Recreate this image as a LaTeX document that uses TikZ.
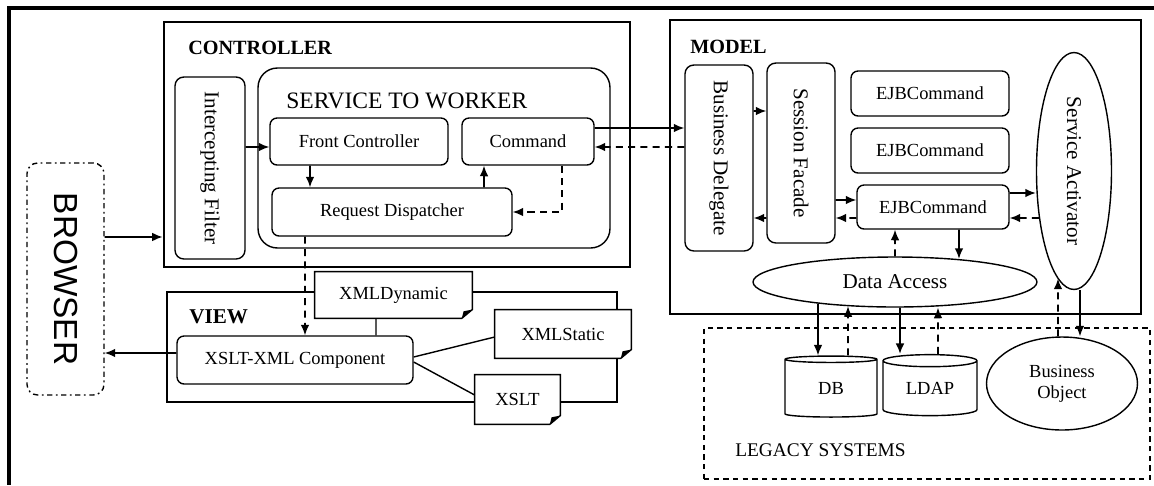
\documentclass[tikz,border=0pt]{standalone}
\usepackage{fontspec}
\setmainfont{Liberation Serif}
\newfontfamily\browserfont{Liberation Sans}
\usetikzlibrary{shapes.geometric,arrows.meta}

% outline of a document box with a folded corner
\newcommand\docframe[1]{%
  \draw[thick] (#1.south west) -- (#1.north west) -- (#1.north east) -- ([yshift=5pt]#1.south east) -- ([xshift=-6pt]#1.south east) -- cycle;
  \fill ([yshift=5pt]#1.south east) -- ([xshift=-6pt]#1.south east) -- ([xshift=-5pt,yshift=4pt]#1.south east) -- cycle;}

\begin{document}
\begin{tikzpicture}[x=0.02cm,y=-0.02cm,>={Latex[length=6pt,width=5pt]},
  big/.style={draw,line width=1.6pt,inner sep=0pt},
  box/.style={draw,thick,rounded corners=4pt,inner sep=0pt,font=\fontsize{10.5}{12}\selectfont},
  vbox/.style={draw,thick,rounded corners=5pt,inner sep=0pt,font=\fontsize{12}{14}\selectfont},
  doc/.style={fill=white,inner sep=0pt,font=\fontsize{10.5}{12}\selectfont},
  title/.style={anchor=west,inner sep=0pt,font=\bfseries\fontsize{11.5}{13}\selectfont},
  flow/.style={->,line width=1pt},
  back/.style={->,line width=1pt,dash pattern=on 4pt off 3pt},
  link/.style={thick}]
\useasboundingbox (0,0) rectangle (1154,485);
\draw[line width=2pt] (1154,8) -- (9,8) -- (9,485);

\node[draw,thick,rounded corners=6pt,dash pattern=on 3pt off 2pt on 1pt off 2pt,minimum width=1.54cm,minimum height=4.64cm,inner sep=0pt] (browser) at (65.5,279) {\rotatebox{-90}{\browserfont\fontsize{19}{22}\selectfont BROWSER}};

% controller
\node[big,minimum width=9.32cm,minimum height=4.9cm] (ctrl) at (397,144.5) {};
\node[title] (ctrltitle) at (188,48) {CONTROLLER};
\node[vbox,minimum width=1.4cm,minimum height=3.64cm] (ifilter) at (210,168) {\rotatebox{-90}{Intercepting Filter}};
\node[draw,thick,rounded corners=11pt,minimum width=7.04cm,minimum height=3.6cm] (stw) at (434,158) {};
\node[anchor=west,inner sep=0pt,font=\fontsize{13.4}{15}\selectfont] (stwtitle) at (286,101) {SERVICE TO WORKER};
\node[box,minimum width=3.56cm,minimum height=0.94cm] (frontctrl) at (359,141.5) {Front Controller};
\node[box,minimum width=2.64cm,minimum height=0.94cm] (command) at (528,141.5) {Command};
\node[box,minimum width=4.8cm,minimum height=0.96cm] (reqdisp) at (392,212) {Request Dispatcher};

% view
\node[big,minimum width=9cm,minimum height=2.2cm] (view) at (392,347) {};
\node[title,font=\bfseries\fontsize{12}{14}\selectfont] (viewtitle) at (189,317) {VIEW};
\node[box,minimum width=4.72cm,minimum height=0.96cm] (xsltxml) at (295,360) {XSLT-XML Component};
\node[doc,minimum width=3.14cm,minimum height=0.92cm] (xmldyn) at (393.5,295) {XMLDynamic};
\node[doc,minimum width=2.72cm,minimum height=0.96cm] (xmlstat) at (563,334) {XMLStatic};
\node[doc,minimum width=1.7cm,minimum height=0.98cm] (xslt) at (517.5,399.5) {XSLT};
\docframe{xmldyn}
\docframe{xmlstat}
\docframe{xslt}

% model
\node[big,minimum width=9.42cm,minimum height=5.88cm] (model) at (905.5,167) {};
\node[title] (modeltitle) at (690,47) {MODEL};
\node[vbox,minimum width=1.36cm,minimum height=3.72cm] (busdel) at (719,158) {\rotatebox{-90}{Business Delegate}};
\node[vbox,minimum width=1.36cm,minimum height=3.6cm] (sesfac) at (801,153) {\rotatebox{-90}{Session Facade}};
\node[box,minimum width=3.16cm,minimum height=0.9cm] (ejb1) at (930,93.5) {EJBCommand};
\node[box,minimum width=3.16cm,minimum height=0.9cm] (ejb2) at (930,150.5) {EJBCommand};
\node[box,minimum width=3.04cm,minimum height=0.88cm] (ejb3) at (933,207) {EJBCommand};
\node[draw,thick,ellipse,inner sep=0pt,minimum width=1.5cm,minimum height=4.74cm,font=\fontsize{12}{14}\selectfont] (servact) at (1074,171) {\rotatebox{-90}{Service Activator}};
\node[draw,thick,ellipse,inner sep=0pt,minimum width=5.68cm,minimum height=1cm,font=\fontsize{12}{14}\selectfont] (dataacc) at (895,282) {Data Access};

% legacy systems
\node[draw,thick,dash pattern=on 3pt off 2.5pt,minimum width=8.92cm,minimum height=3.02cm,inner sep=0pt] (legacy) at (927,403.5) {};
\node[anchor=west,inner sep=0pt,font=\fontsize{11}{13}\selectfont] (legacytitle) at (735,450) {LEGACY SYSTEMS};
\node[draw,thick,cylinder,shape border rotate=90,aspect=0.25,inner sep=0pt,minimum width=1.84cm,minimum height=1.22cm,font=\fontsize{10.5}{12}\selectfont] (db) at (831,388.5) {DB};
\node[draw,thick,cylinder,shape border rotate=90,aspect=0.25,inner sep=0pt,minimum width=1.88cm,minimum height=1.22cm,font=\fontsize{10.5}{12}\selectfont] (ldap) at (930,388.5) {LDAP};
\node[draw,thick,ellipse,inner sep=0pt,minimum width=3.02cm,minimum height=1.86cm,align=center,font=\fontsize{10.5}{12}\selectfont] (busobj) at (1062,383.5) {Business\\Object};

% connectors
\draw[flow] ([yshift=0.84cm]browser.east) -- ([yshift=-1.85cm]ctrl.west);
\draw[flow] ([yshift=0.14cm]xsltxml.west) -- ([yshift=-1.48cm]browser.east);
\draw[flow] ([yshift=0.42cm]ifilter.east) -- ([yshift=-0.11cm]frontctrl.west);
\draw[flow] ([xshift=-0.98cm]frontctrl.south) -- ([xshift=-1.64cm]reqdisp.north);
\draw[flow] ([xshift=1.84cm]reqdisp.north) -- ([xshift=-0.88cm]command.south);
\draw[back] ([xshift=0.68cm]command.south) |- (reqdisp.east);
\draw[flow] ([yshift=0.27cm]command.east) -- ([yshift=0.6cm]busdel.west);
\draw[back] ([yshift=0.22cm]busdel.west) -- ([yshift=-0.11cm]command.east);
\draw[flow] ([yshift=0.94cm]busdel.east) -- ([yshift=0.84cm]sesfac.west);
\draw[back] ([yshift=-1.3cm]sesfac.west) -- ([yshift=-1.2cm]busdel.east);
\draw[flow] ([yshift=-0.94cm]sesfac.east) -- ([yshift=0.14cm]ejb3.west);
\draw[back] ([yshift=-0.22cm]ejb3.west) -- ([yshift=-1.3cm]sesfac.east);
\draw[flow] ([yshift=0.28cm]ejb3.east) -- ([yshift=-0.44cm]servact.west);
\draw[back] ([xshift=0.06cm,yshift=-0.94cm]servact.west) -- ([yshift=-0.22cm]ejb3.east);
\draw[back] (dataacc.north) -- ([xshift=-0.76cm]ejb3.south);
\draw[flow] ([xshift=0.52cm]ejb3.south) -- ([xshift=1.28cm,yshift=-0.05cm]dataacc.north);
\draw[flow] ([xshift=-1.54cm,yshift=0.08cm]dataacc.south) -- ([xshift=-0.26cm]db.north);
\draw[back] ([xshift=0.34cm]db.north) -- ([xshift=-0.94cm,yshift=0.03cm]dataacc.south);
\draw[flow] ([xshift=0.1cm]dataacc.south) -- ([xshift=-0.6cm]ldap.north);
\draw[back] ([xshift=0.16cm]ldap.north) -- ([xshift=0.86cm]dataacc.south);
\draw[flow] ([xshift=0.12cm]servact.south) -- ([xshift=0.36cm]busobj.north);
\draw[back] ([xshift=-0.08cm]busobj.north) -- ([xshift=-0.32cm,yshift=0.23cm]servact.south);
\draw[back] ([xshift=-1.74cm]reqdisp.south) -- ([xshift=0.2cm]xsltxml.north);
\draw[link] ([xshift=-0.35cm]xmldyn.south) -- ([xshift=1.62cm]xsltxml.north);
\draw[link] ([yshift=0.06cm]xsltxml.east) -- ([yshift=-0.06cm]xmlstat.west);
\draw[link] ([yshift=-0.04cm]xsltxml.east) -- ([yshift=0.09cm]xslt.west);
\end{tikzpicture}
\end{document}
